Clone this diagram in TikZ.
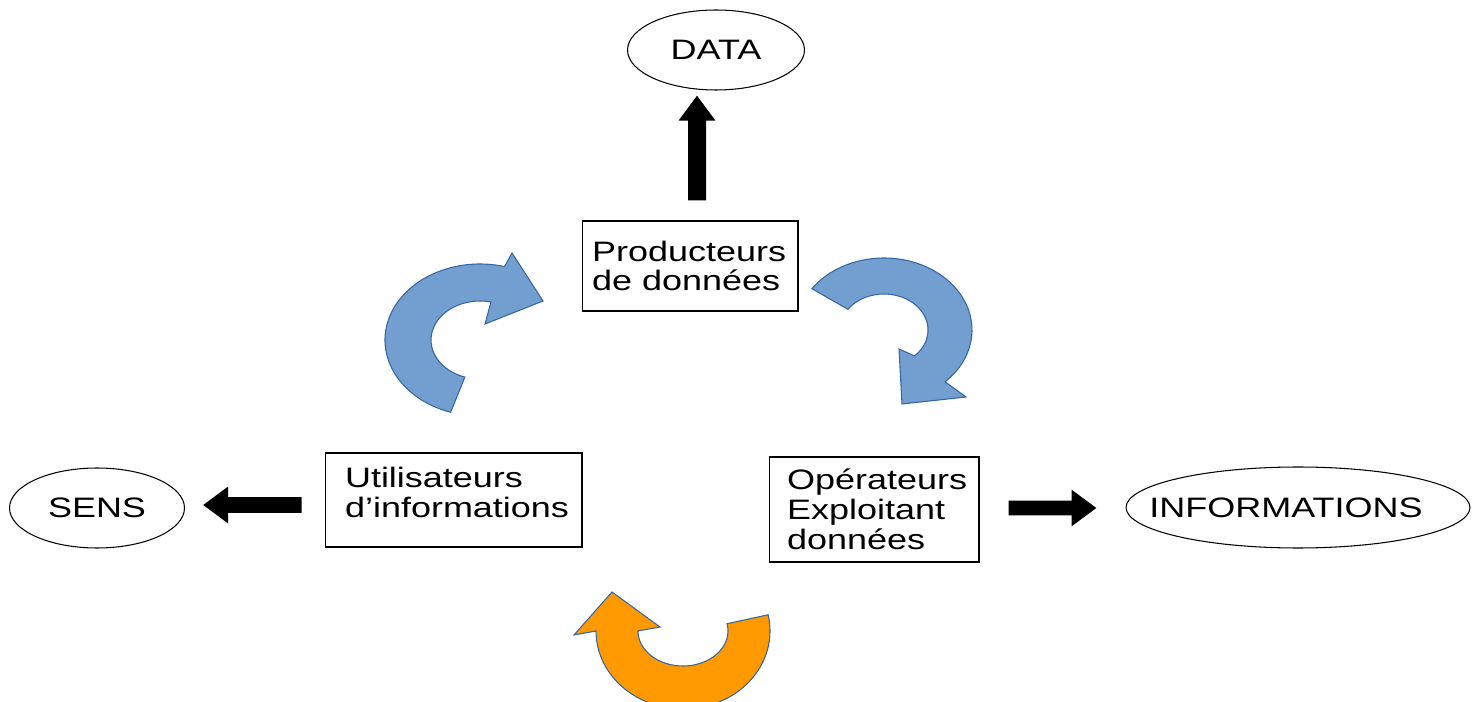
\documentclass[tikz,border=0pt]{standalone}
\usepackage{fontspec}
\setmainfont{Liberation Sans}[FakeStretch=1.28]
\usetikzlibrary{arrows.meta, shapes.geometric}

\definecolor{turnblue}{HTML}{729FCF}
\definecolor{turnorange}{HTML}{FF9900}
\definecolor{rimblue}{HTML}{3465A4}

\begin{document}
\begin{tikzpicture}[
  x=0.02cm, y=-0.02cm,
  bubble/.style={
    ellipse,
    draw,
    line width=0.6pt,
    inner sep=0pt
  },
  box/.style={
    rectangle,
    draw,
    line width=0.6pt,
    align=flush left,
    inner ysep=0pt
  },
  every node/.style={font=\fontsize{16pt}{17pt}\selectfont},
  fat/.style={line width=0.32cm, -{Triangle[length=0.5cm, width=0.7cm]}},
  turn/.style={draw=rimblue, line width=0.6pt, fill=turnblue}
]
\useasboundingbox (0,0) rectangle (1478,702);

% ------------------------------------------------------------
% Ellipses
% ------------------------------------------------------------

\node[bubble, minimum width=3.54cm, minimum height=1.6cm] (data) at (716,50) {DATA};
\node[bubble, minimum width=3.5cm, minimum height=1.6cm] (sens) at (97,508) {SENS};
\node[bubble, minimum width=6.88cm, minimum height=1.62cm,
      label={[xshift=-0.24cm]center:INFORMATIONS}] (info) at (1298,507.5) {};

% ------------------------------------------------------------
% Boxes
% ------------------------------------------------------------

\node[box, minimum width=4.32cm, minimum height=1.8cm, text width=3.92cm, inner xsep=0.2cm]
  (prod) at (690,266) {Producteurs\\de données};
\node[box, minimum width=5.14cm, minimum height=1.88cm, text width=4.34cm, inner xsep=0.4cm]
  (util) at (453.5,500) {Utilisateurs\\d’informations\rule[-0.32cm]{0pt}{0pt}};
\node[box, minimum width=4.2cm, minimum height=2.1cm, text width=3.48cm, inner xsep=0.36cm]
  (oper) at (874,509.5) {Opérateurs\\Exploitant\\données};

% ------------------------------------------------------------
% Straight arrows
% ------------------------------------------------------------

\draw[fat, line width=0.36cm] ([xshift=0.14cm, yshift=0.4cm]prod.north) -- ([xshift=-0.38cm, yshift=-0.1cm]data.south);
\draw[fat] ([xshift=-0.46cm, yshift=-0.1cm]util.west) -- ([xshift=0.36cm, yshift=0.06cm]sens.east);
\draw[fat, line width=0.3cm] ([xshift=0.58cm, yshift=0.03cm]oper.east) -- ([xshift=-0.58cm, yshift=-0.01cm]info.west);

% ------------------------------------------------------------
% Turning arrows
% ------------------------------------------------------------

\begin{scope}[shift={(480,340)}]
  \draw[turn] (108:95 and 76) arc[start angle=108, end angle=285, x radius=95, y radius=76]
    -- (32,-87) -- (63,-39) -- (5,-16)
    -- (283:49 and 39) arc[start angle=283, end angle=108, x radius=49, y radius=39] -- cycle;
\end{scope}

\begin{scope}[shift={(884,330)}]
  \draw[turn] (215:88 and 72) arc[start angle=215, end angle=406, x radius=88, y radius=72]
    -- (82,67) -- (18,74) -- (15,19)
    -- (46:44 and 36) arc[start angle=406, end angle=215, x radius=44, y radius=36] -- cycle;
\end{scope}

\begin{scope}[shift={(683,631)}]
  \draw[turn, fill=turnorange] (-12:87 and 78) arc[start angle=-12, end angle=180, x radius=87, y radius=78]
    -- (-109,4) -- (-71,-39) -- (-23,-4)
    -- (180:45 and 35) arc[start angle=180, end angle=-12, x radius=45, y radius=35] -- cycle;
\end{scope}

\end{tikzpicture}
\end{document}
